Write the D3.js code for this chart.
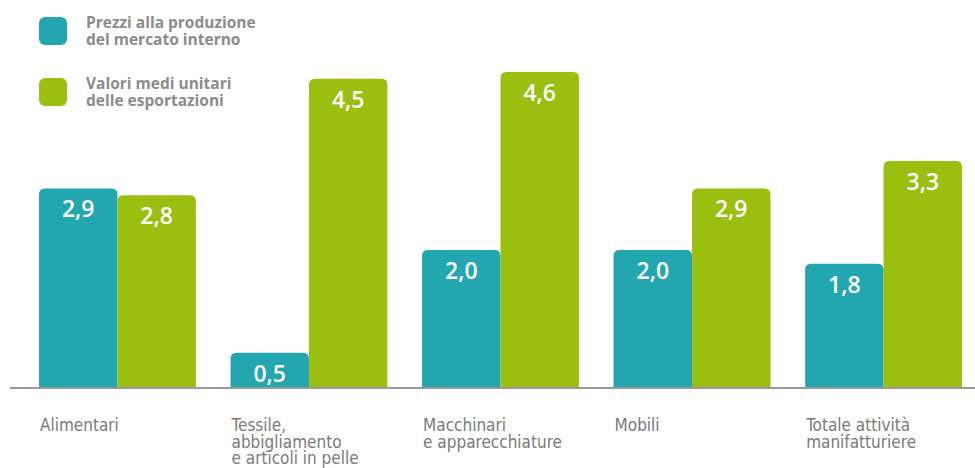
<!DOCTYPE html>
<html>
<head>
<meta charset="utf-8">
<script src="https://cdn.jsdelivr.net/npm/d3@7"></script>
<style>
  body { margin: 0; background: #fff; }
  svg { display: block; }
</style>
</head>
<body>
<div id="chart"></div>
<script>
const categories = [
    ["Alimentari"],
    ["Tessile,", "abbigliamento", "e articoli in pelle"],
    ["Macchinari", "e apparecchiature"],
    ["Mobili"],
    ["Totale attività", "manifatturiere"]
];
const seriesNames = [
    ["Prezzi alla produzione", "del mercato interno"],
    ["Valori medi unitari", "delle esportazioni"]
];
const prezziInterni = [2.9, 0.5, 2.0, 2.0, 1.8];
const valoriExport = [2.8, 4.5, 4.6, 2.9, 3.3];
const colors = ["#22a7b1", "#9bbf0e"];

const width = 975, height = 468,
    baseline = 387;

const svg = d3.select("#chart")
    .append("svg")
    .attr("width", width)
    .attr("height", height);

const x0 = d3.scaleBand()
    .domain(d3.range(categories.length))
    .range([39, 962])
    .paddingInner(0.181)
    .paddingOuter(0);

const x1 = d3.scaleBand()
    .domain([0, 1])
    .range([0, x0.bandwidth()]);

const y = d3.scaleLinear()
    .domain([0, 4.6])
    .range([baseline, 72]);

const fmt = d => d3.format(".1f")(d).replace(".", ",");

// rounded top corners only
const barPath = (x, yTop, w, h, r) =>
    "M" + x + "," + (yTop + h) +
    "V" + (yTop + r) +
    "Q" + x + "," + yTop + " " + (x + r) + "," + yTop +
    "H" + (x + w - r) +
    "Q" + (x + w) + "," + yTop + " " + (x + w) + "," + (yTop + r) +
    "V" + (yTop + h) + "Z";

const groups = svg.append("g").selectAll("g")
    .data(categories.map((c, i) => ({i: i, values: [prezziInterni[i], valoriExport[i]]})))
    .join("g")
    .attr("transform", d => "translate(" + x0(d.i) + ",0)");

const bars = groups.selectAll("g")
    .data(d => d.values.map((v, s) => ({s: s, v: v})))
    .join("g");

bars.append("path")
    .attr("fill", d => colors[d.s])
    .attr("d", d => barPath(x1(d.s), y(d.v), x1.bandwidth(), baseline - y(d.v), 6));

bars.append("text")
    .attr("x", d => x1(d.s) + x1.bandwidth() / 2)
    .attr("y", d => y(d.v) + 29)
    .attr("text-anchor", "middle")
    .attr("fill", "#fff")
    .attr("font-family", "'Open Sans', sans-serif")
    .attr("font-weight", 600)
    .attr("font-size", 23)
    .text(d => fmt(d.v));

// baseline
svg.append("line")
    .attr("x1", 10)
    .attr("x2", width)
    .attr("y1", baseline + 1)
    .attr("y2", baseline + 1)
    .attr("stroke", "#9a9a9a")
    .attr("stroke-width", 2);

// category labels, one text per line
const catLines = categories.flatMap((lines, i) => lines.map((t, j) => ({i: i, j: j, t: t})));

svg.append("g").selectAll("text")
    .data(catLines)
    .join("text")
    .attr("x", d => x0(d.i) + 1)
    .attr("y", d => 431 + d.j * 16.5)
    .attr("fill", "#7a7a7a")
    .attr("font-family", "'Liberation Sans Narrow', 'DejaVu Sans Condensed', sans-serif")
    .attr("font-size", 17)
    .text(d => d.t);

// legend
const legend = svg.append("g").selectAll("g")
    .data(seriesNames)
    .join("g")
    .attr("transform", (d, i) => "translate(39," + (17 + i * 61) + ")");

legend.append("rect")
    .attr("width", 28)
    .attr("height", 28)
    .attr("rx", 6)
    .attr("fill", (d, i) => colors[i]);

legend.selectAll("text")
    .data(d => d)
    .join("text")
    .attr("x", 47)
    .attr("y", (d, j) => 11 + j * 17)
    .attr("fill", "#8c8c8c")
    .attr("font-family", "'Open Sans', sans-serif")
    .attr("font-weight", 700)
    .attr("font-size", 15.5)
    .text(d => d);
</script>
</body>
</html>
